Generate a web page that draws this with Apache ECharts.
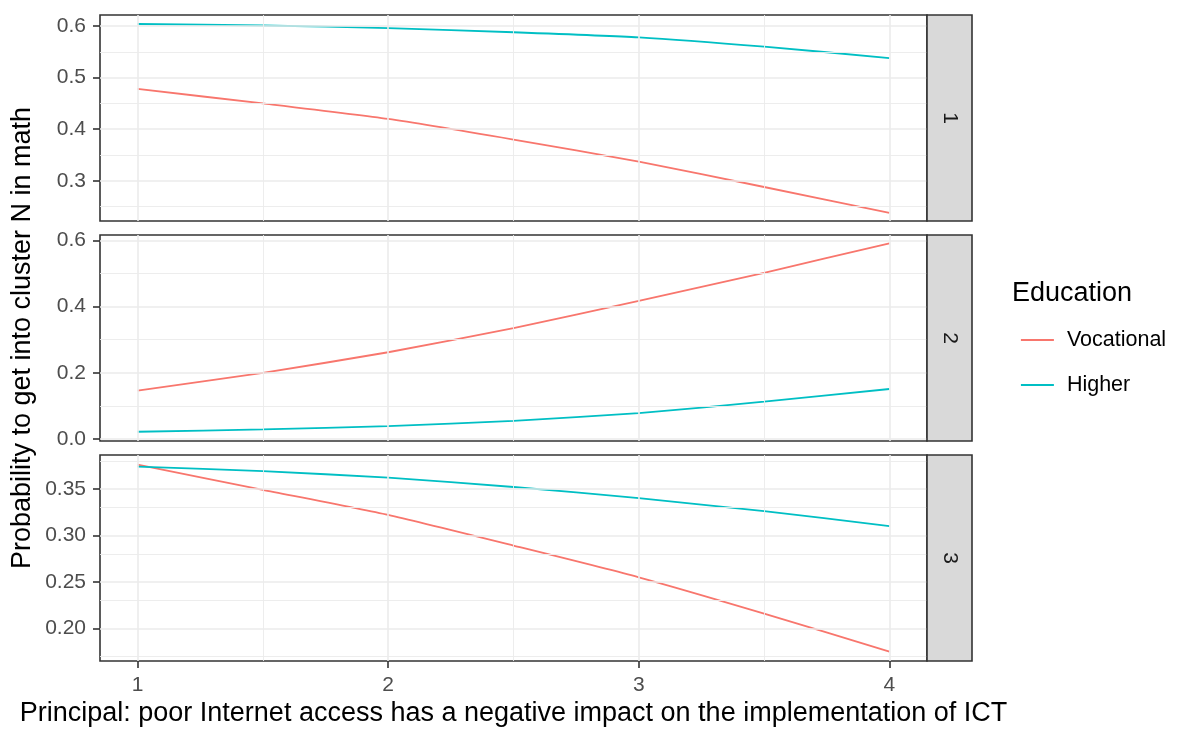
<!DOCTYPE html>
<html>
<head>
<meta charset="utf-8">
<title>Probability to get into cluster N in math</title>
<script src="https://cdn.jsdelivr.net/npm/echarts@6/dist/echarts.min.js"></script>
<style>
  html, body { margin: 0; padding: 0; background: #ffffff; }
  #chart { width: 1178px; height: 731px; }
</style>
</head>
<body>
<div id="chart"></div>
<script>
// Predicted probabilities along the principal's rating (1..4), one facet per cluster
const xValues = [1, 1.5, 2, 2.5, 3, 3.5, 4];
const clusterLabels = ['1', '2', '3'];
const seriesNames = ['Vocational', 'Higher'];

const vocational1 = [0.478, 0.450, 0.420, 0.380, 0.337, 0.288, 0.238];
const higher1     = [0.604, 0.601, 0.596, 0.588, 0.578, 0.560, 0.538];

const vocational2 = [0.146, 0.200, 0.262, 0.335, 0.417, 0.502, 0.591];
const higher2     = [0.022, 0.029, 0.039, 0.055, 0.078, 0.113, 0.151];

const vocational3 = [0.376, 0.349, 0.322, 0.289, 0.255, 0.216, 0.175];
const higher3     = [0.374, 0.369, 0.362, 0.352, 0.340, 0.326, 0.310];

// Axis breaks
const xTicks = [1, 2, 3, 4];
const xMinorTicks = [1.5, 2.5, 3.5];
const yTicks1 = [0.3, 0.4, 0.5, 0.6];
const yMinorTicks1 = [0.25, 0.35, 0.45, 0.55];
const yTicks2 = [0.0, 0.2, 0.4, 0.6];
const yMinorTicks2 = [0.1, 0.3, 0.5];
const yTicks3 = [0.20, 0.25, 0.30, 0.35];
const yMinorTicks3 = [0.175, 0.225, 0.275, 0.325, 0.375];

const yTitle = 'Probability to get into cluster N in math';
const xTitle = 'Principal: poor Internet access has a negative impact on the implementation of ICT';
const legendTitle = 'Education';

// ---- layout / style ----
const FONT = "'Liberation Sans', Arial, Helvetica, sans-serif";
const colors = ['#F8766D', '#00BFC4'];
const panelLeft = 100, panelWidth = 827, panelHeight = 206;
const panelTops = [15, 235, 455];
const stripWidth = 45;
const xLimits = [0.85, 4.15];
const yLimits = [[0.2221, 0.6214], [-0.006, 0.616], [0.165, 0.3864]];
const yDecimals = [1, 1, 2];

const panels = [
  { voc: vocational1, hig: higher1, ticks: yTicks1, minor: yMinorTicks1 },
  { voc: vocational2, hig: higher2, ticks: yTicks2, minor: yMinorTicks2 },
  { voc: vocational3, hig: higher3, ticks: yTicks3, minor: yMinorTicks3 }
];

const toPairs = ys => xValues.map((x, i) => [x, ys[i]]);

const grids = [], xAxes = [], yAxes = [], series = [], graphics = [];

panels.forEach((p, i) => {
  const isBottom = i === panels.length - 1;
  grids.push({
    left: panelLeft, top: panelTops[i], width: panelWidth, height: panelHeight,
    show: true, backgroundColor: '#ffffff', borderColor: '#333333', borderWidth: 1.6,
    containLabel: false
  });
  xAxes.push({
    type: 'value', gridIndex: i, min: xLimits[0], max: xLimits[1],
    axisLine: { show: false },
    splitLine: { show: false },
    axisTick: { show: isBottom, customValues: xTicks, length: 7, lineStyle: { color: '#333333', width: 1.6 } },
    axisLabel: { show: isBottom, customValues: xTicks, margin: 14, color: '#4D4D4D', fontSize: 21, fontFamily: FONT,
                 formatter: v => String(v) }
  });
  yAxes.push({
    type: 'value', gridIndex: i, min: yLimits[i][0], max: yLimits[i][1],
    axisLine: { show: false },
    splitLine: { show: false },
    axisTick: { show: true, customValues: p.ticks, length: 7, lineStyle: { color: '#333333', width: 1.6 } },
    axisLabel: { show: true, customValues: p.ticks, margin: 14, color: '#4D4D4D', fontSize: 21, fontFamily: FONT,
                 formatter: v => Number(v).toFixed(yDecimals[i]) }
  });

  // Panel grid lines (major and minor), drawn beneath the curves
  const gridData = [];
  p.minor.forEach(v => gridData.push({ yAxis: v, lineStyle: { width: 0.9 } }));
  xMinorTicks.forEach(v => gridData.push({ xAxis: v, lineStyle: { width: 0.9 } }));
  p.ticks.forEach(v => gridData.push({ yAxis: v, lineStyle: { width: 1.6 } }));
  xTicks.forEach(v => gridData.push({ xAxis: v, lineStyle: { width: 1.6 } }));
  series.push({
    type: 'line', name: 'grid' + i, xAxisIndex: i, yAxisIndex: i, data: [], z: 1,
    silent: true, animation: false,
    markLine: {
      silent: true, animation: false, symbol: ['none', 'none'], label: { show: false },
      lineStyle: { color: '#EBEBEB', type: 'solid', width: 1.6 },
      emphasis: { disabled: true },
      data: gridData
    }
  });

  [p.voc, p.hig].forEach((ys, k) => {
    series.push({
      type: 'line', name: seriesNames[k], xAxisIndex: i, yAxisIndex: i, z: 3,
      data: toPairs(ys), symbol: 'none', showSymbol: false, smooth: 0.2,
      animation: false, color: colors[k],
      lineStyle: { color: colors[k], width: 1.8 },
      emphasis: { disabled: true }
    });
  });

  // Facet strip on the right of each panel
  graphics.push({
    type: 'rect', z: 10,
    shape: { x: panelLeft + panelWidth, y: panelTops[i], width: stripWidth, height: panelHeight },
    style: { fill: '#D9D9D9', stroke: '#333333', lineWidth: 1.6 }
  });
  graphics.push({
    type: 'text', z: 11,
    x: panelLeft + panelWidth + stripWidth / 2, y: panelTops[i] + panelHeight / 2,
    rotation: -Math.PI / 2,
    style: { text: clusterLabels[i], font: '21px ' + FONT, fill: '#1A1A1A',
             align: 'center', verticalAlign: 'middle', textAlign: 'center', textVerticalAlign: 'middle' }
  });
});

// Axis titles and legend title
const plotMid = (panelTops[0] + panelTops[2] + panelHeight) / 2;
graphics.push({
  type: 'text', z: 11, x: 23, y: plotMid, rotation: Math.PI / 2,
  style: { text: yTitle, font: '27px ' + FONT, fill: '#000000',
           align: 'center', verticalAlign: 'middle', textAlign: 'center', textVerticalAlign: 'middle' }
});
graphics.push({
  type: 'text', z: 11, x: panelLeft + panelWidth / 2, y: 714,
  style: { text: xTitle, font: '27px ' + FONT, fill: '#000000',
           align: 'center', verticalAlign: 'middle', textAlign: 'center', textVerticalAlign: 'middle' }
});
graphics.push({
  type: 'text', z: 11, x: 1012, y: 294,
  style: { text: legendTitle, font: '27px ' + FONT, fill: '#000000',
           align: 'left', verticalAlign: 'middle', textAlign: 'left', textVerticalAlign: 'middle' }
});

const chart = echarts.init(document.getElementById('chart'), null, { renderer: 'canvas' });
chart.setOption({
  animation: false,
  backgroundColor: '#ffffff',
  grid: grids,
  xAxis: xAxes,
  yAxis: yAxes,
  legend: {
    data: seriesNames, orient: 'vertical', left: 1015, top: 324,
    itemWidth: 33, itemHeight: 14, itemGap: 23, selectedMode: false,
    itemStyle: { opacity: 0 },
    lineStyle: { width: 1.8 },
    textStyle: { color: '#000000', fontSize: 21.5, fontFamily: FONT, padding: [0, 0, 0, 8] }
  },
  graphic: graphics,
  series: series
});
</script>
</body>
</html>
